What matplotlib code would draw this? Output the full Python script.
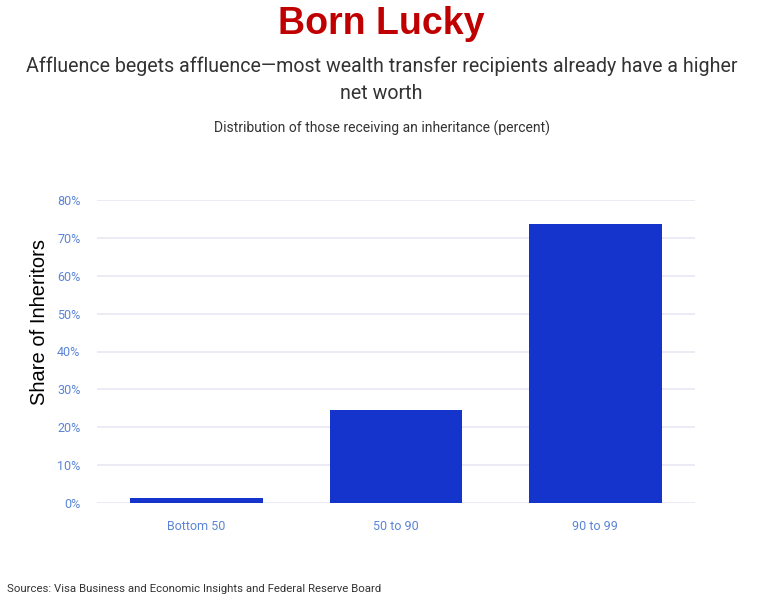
import matplotlib.pyplot as plt
from matplotlib.ticker import FuncFormatter

categories = ["Bottom 50", "50 to 90", "90 to 99"]
shares = [1.3, 24.6, 73.7]
y_ticks = [0, 10, 20, 30, 40, 50, 60, 70, 80]

bar_color = "#1434CB"
tick_color = "#5B84D6"
grid_color = "#E6E8F2"
text_font = ["Roboto", "DejaVu Sans"]

fig = plt.figure(figsize=(7.63, 6.01), dpi=100)

# axes placed in pixel terms: left 97, right 695, top 200, bottom 503
W, H = 763, 601
ax = fig.add_axes([97 / W, (H - 503) / H, (695 - 97) / W, (503 - 200) / H])

ax.bar(
    range(len(categories)),
    shares,
    width=0.665,
    color=bar_color,
    zorder=3
)

ax.set_xlim(-0.5, 2.5)
ax.set_ylim(0, 80)
ax.set_yticks(y_ticks)
ax.yaxis.set_major_formatter(FuncFormatter(lambda v, p: f"{v:.0f}%"))
ax.set_xticks(range(len(categories)))
ax.set_xticklabels(categories)

for s in ax.spines.values():
    s.set_visible(False)

ax.grid(axis="y", color=grid_color, linewidth=1.2, zorder=0)
ax.tick_params(axis="both", length=0, labelsize=9, colors=tick_color)
ax.tick_params(axis="x", pad=12)
ax.tick_params(axis="y", pad=12)
for lab in ax.get_xticklabels() + ax.get_yticklabels():
    lab.set_family(text_font)

ax.set_ylabel(
    "Share of Inheritors",
    fontsize=14.5,
    family="Liberation Sans",
    color="black"
)
ax.yaxis.set_label_coords(-0.08, 0.597)

fig.text(
    0.5, 1 - 24 / H,
    "Born Lucky",
    ha="center", va="center",
    fontsize=27, fontweight="bold",
    family="Liberation Sans",
    color="#C00000"
)

fig.text(
    0.5, 1 - 80 / H,
    "Affluence begets affluence\u2014most wealth transfer recipients already have a higher\nnet worth",
    ha="center", va="center",
    fontsize=14.1, color="#333333",
    family=text_font,
    linespacing=1.55
)

fig.text(
    0.5, 1 - 128 / H,
    "Distribution of those receiving an inheritance (percent)",
    ha="center", va="center",
    fontsize=10, color="#333333",
    family=text_font
)

fig.text(
    7 / W, 1 - 589 / H,
    "Sources: Visa Business and Economic Insights and Federal Reserve Board",
    ha="left", va="center",
    fontsize=8.2, color="#333333",
    family=text_font
)

fig.savefig("out.png", dpi=100)
